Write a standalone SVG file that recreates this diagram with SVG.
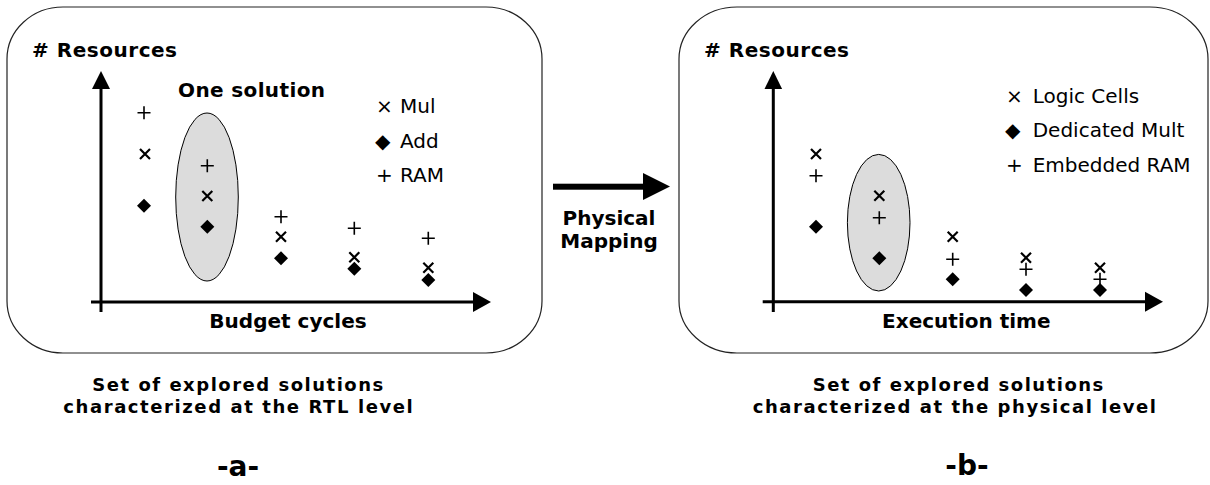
<svg xmlns="http://www.w3.org/2000/svg" width="1210" height="485" viewBox="0 0 1210 485">
<style>
.panel{fill:#fff;stroke:#222;stroke-width:1.2}
.axis{stroke:#000;stroke-width:3;fill:none}
.head{fill:#000}
.blob{fill:#dcdcdc;stroke:#000;stroke-width:1}
.b{font-family:"DejaVu Sans",Verdana,sans-serif;font-weight:bold;font-size:20px;fill:#000}
.cap{font-family:"DejaVu Sans",Verdana,sans-serif;font-weight:bold;font-size:18px;fill:#000}
.r{font-family:"DejaVu Sans",Verdana,sans-serif;font-size:20px;fill:#000}
.big{font-family:"DejaVu Sans",Verdana,sans-serif;font-weight:bold;font-size:28px;fill:#000}
.mk-x{stroke:#000;stroke-width:2.2;fill:none}
.mk-p{stroke:#000;stroke-width:1.6;fill:none}
.mk-d{fill:#000}
</style>
<defs>
<path id="mx" class="mk-x" d="M-5,-5L5,5M-5,5L5,-5"/>
<path id="mp" class="mk-p" d="M-6.5,0H6.5M0,-6.5V6.5"/>
<path id="md" class="mk-d" d="M0,-7L7,0L0,7L-7,0Z"/>
</defs>
<rect width="1210" height="485" fill="#fff"/>

<g id="panel-a">
<rect class="panel" x="7" y="7" width="535" height="346" rx="56" ry="52"/>
<text class="b" x="32" y="57" textLength="145">#&#160;Resources</text>
<path class="axis" d="M101,312V88M91,302H474"/>
<path class="head" d="M92,89L110,89L101,71Z"/>
<path class="head" d="M473,292L473,312L491,302Z"/>
<text class="b" x="288" y="328" text-anchor="middle">Budget cycles</text>
<text class="b" x="178" y="97" textLength="147">One solution</text>
<ellipse class="blob" cx="207" cy="197" rx="31.3" ry="84"/>
<text class="r" y="113"><tspan x="376">× </tspan><tspan x="400">Mul</tspan></text>
<text class="r" y="148"><tspan x="375">◆ </tspan><tspan x="400">Add</tspan></text>
<text class="r" y="182"><tspan x="376">+ </tspan><tspan x="400">RAM</tspan></text>
<use href="#mp" x="144" y="112.7"/><use href="#mx" x="145" y="154"/><use href="#md" x="144" y="205.7"/>
<use href="#mp" x="207.3" y="165.7"/><use href="#mx" x="207.3" y="196"/><use href="#md" x="207.3" y="226.7"/>
<use href="#mp" x="281" y="216.7"/><use href="#mx" x="281" y="236.7"/><use href="#md" x="281" y="258.3"/>
<use href="#mp" x="354.3" y="228.3"/><use href="#mx" x="354.3" y="257.3"/><use href="#md" x="354.3" y="268.7"/>
<use href="#mp" x="428.3" y="238.3"/><use href="#mx" x="428.3" y="267.7"/><use href="#md" x="428.3" y="280"/>
</g>

<g id="panel-b">
<rect class="panel" x="679" y="7" width="529" height="346" rx="58" ry="52"/>
<text class="b" x="704" y="57" textLength="145">#&#160;Resources</text>
<path class="axis" d="M773.3,312V88M762.7,301.7H1146"/>
<path class="head" d="M764.5,89L782.1,89L773.3,71Z"/>
<path class="head" d="M1145,291.7L1145,311.7L1163,301.7Z"/>
<text class="b" x="966.3" y="328" text-anchor="middle">Execution time</text>
<ellipse class="blob" cx="878.7" cy="222.7" rx="31.3" ry="68.3"/>
<text class="r" y="102.7"><tspan x="1006">× </tspan><tspan x="1032.7">Logic Cells</tspan></text>
<text class="r" y="136.7"><tspan x="1005">◆ </tspan><tspan x="1032.7">Dedicated Mult</tspan></text>
<text class="r" y="171.7"><tspan x="1006">+ </tspan><tspan x="1032.7">Embedded RAM</tspan></text>
<use href="#mx" x="816" y="154"/><use href="#mp" x="816" y="175.7"/><use href="#md" x="816" y="226.7"/>
<use href="#mx" x="879.3" y="195.7"/><use href="#mp" x="879.3" y="217.7"/><use href="#md" x="879.3" y="258.3"/>
<use href="#mx" x="952.7" y="236.7"/><use href="#mp" x="952.7" y="259.3"/><use href="#md" x="952.7" y="279.3"/>
<use href="#mx" x="1026" y="257.7"/><use href="#mp" x="1026" y="269.3"/><use href="#md" x="1026" y="290"/>
<use href="#mx" x="1100" y="267.7"/><use href="#mp" x="1100" y="279.3"/><use href="#md" x="1100" y="290"/>
</g>

<g id="connectors">
<rect x="553" y="183.7" width="91" height="6" fill="#000"/>
<path class="head" d="M643,173L643,200L670,186.5Z"/>
<text class="b"><tspan x="609" y="225" text-anchor="middle">Physical</tspan><tspan x="609" y="248.3" text-anchor="middle">Mapping</tspan></text>
</g>

<g id="caption-a">
<text class="cap" x="92.3" y="390.5" textLength="291">Set of explored solutions</text>
<text class="cap" x="63.3" y="412.5" textLength="349.4">characterized at the RTL level</text>
<text class="big" x="238" y="476" text-anchor="middle">-a-</text>
</g>
<g id="caption-b">
<text class="cap" x="812.7" y="390.5" textLength="290.6">Set of explored solutions</text>
<text class="cap" x="752.7" y="412.5" textLength="403.3">characterized at the physical level</text>
<text class="big" x="967" y="475" text-anchor="middle">-b-</text>
</g>
</svg>
